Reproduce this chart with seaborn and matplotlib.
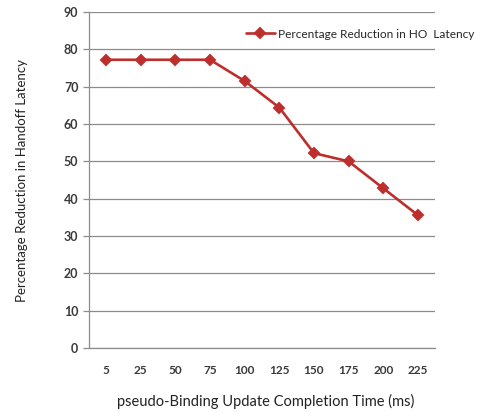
import matplotlib
matplotlib.use('Agg')
import matplotlib.pyplot as plt
from matplotlib.ticker import FixedLocator
import pandas as pd
import seaborn as sns

# data
times = ['5', '25', '50', '75', '100', '125', '150', '175', '200', '225']
reduction = [77.2, 77.2, 77.2, 77.2, 71.5, 64.4, 52.2, 50.0, 42.8, 35.6]
series_name = 'Percentage Reduction in HO  Latency'

df = pd.DataFrame({'time': times, 'reduction': reduction})

sns.set_style('white')
plt.rcParams['font.family'] = ['Lato', 'DejaVu Sans']

line_color = '#BC2F2C'
grid_color = '#8C8C8C'
text_color = '#3A3A3A'

fig = plt.figure(figsize=(4.83, 4.12), dpi=100)
ax = fig.add_axes([0.184, 0.155, 0.717, 0.816])

sns.pointplot(data=df, x='time', y='reduction', order=times, color=line_color,
              markers='D', markersize=5, linewidth=1.9, label=series_name, ax=ax)

ax.set_ylim(0, 90)
ax.set_yticks(range(0, 91, 10))
ax.set_xlim(-0.5, len(times) - 0.5)

# horizontal grid only
ax.yaxis.grid(True, color=grid_color, linewidth=0.9)
ax.set_axisbelow(True)
for side in ['top', 'right']:
    ax.spines[side].set_visible(False)
for side in ['left', 'bottom']:
    ax.spines[side].set_color(grid_color)
    ax.spines[side].set_linewidth(0.9)

# tick marks between categories, labels at category centres
ax.set_xticks(range(len(times)))
ax.set_xticklabels(times)
ax.tick_params(axis='x', length=0, pad=12, labelsize=8.5, labelcolor=text_color)
ax.xaxis.set_minor_locator(FixedLocator([i - 0.5 for i in range(len(times) + 1)]))
ax.tick_params(axis='x', which='minor', length=4, color=grid_color, width=0.9, direction='out')
ax.tick_params(axis='y', length=4, color=grid_color, width=0.9, direction='out',
               labelsize=9, labelcolor=text_color, left=True)
for lbl in ax.get_xticklabels() + ax.get_yticklabels():
    lbl.set_fontweight('bold')

ax.set_xlabel('pseudo-Binding Update Completion Time (ms)', fontsize=10.5,
              color='#222222', labelpad=14)
ax.set_ylabel('Percentage Reduction in Handoff Latency', fontsize=9.5,
              color='#222222', labelpad=26)
ax.xaxis.set_label_coords(0.51, -0.135)

ax.legend(loc='center left', bbox_to_anchor=(0.44, 0.934), frameon=False,
          fontsize=8.6, handlelength=2.4, handletextpad=0.3, borderaxespad=0)

fig.savefig('out.png', dpi=100)
